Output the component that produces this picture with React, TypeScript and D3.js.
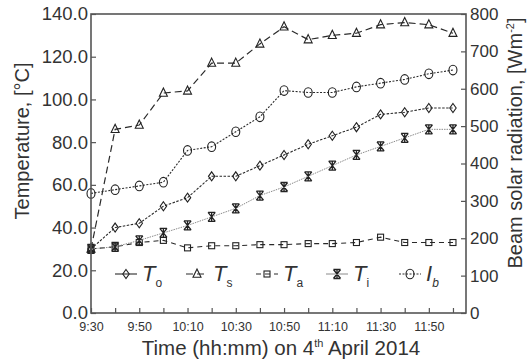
import React, { useEffect, useRef } from 'react';
import * as d3 from 'd3';

// minutes after 9:30, one reading every 10 min
const minutes = [0, 10, 20, 30, 40, 50, 60, 70, 80, 90, 100, 110, 120, 130, 140, 150];
const labelMinutes = [0, 20, 40, 60, 80, 100, 120, 140];
const tempTicks = [0, 20, 40, 60, 80, 100, 120, 140];
const radTicks = [0, 100, 200, 300, 400, 500, 600, 700, 800];

const To = [30, 40, 42, 50, 54, 64, 64, 69, 74, 79, 83, 87, 93, 94, 96, 96];
const Ts = [30, 86, 88, 103, 104, 117, 117, 126, 134, 128, 130, 131, 135, 136, 135, 131];
const Ta = [30, 31, 33, 34, 30.5, 31.5, 31.5, 32, 32, 32.5, 32.5, 33, 35.5, 33, 33, 33];
const Ti = [30, 31, 34, 37.5, 41, 45, 49, 55, 59, 64, 69, 74, 78, 82, 86, 86];
const Ib = [320, 330, 340, 350, 435, 445, 485, 525, 595, 590, 590, 605, 615, 625, 640, 650];

type Marker = 'diamond' | 'triangle' | 'square' | 'star' | 'circle';

interface Series {
  key: string;
  sub: string;
  values: number[];
  axis: 'left' | 'right';
  marker: Marker;
  stroke: string;
  dash: string;
  width: number;
}

const series: Series[] = [
  { key: 'T', sub: 'o', values: To, axis: 'left', marker: 'diamond', stroke: '#2a2a2a', dash: '2.5,1.5', width: 1.1 },
  { key: 'T', sub: 's', values: Ts, axis: 'left', marker: 'triangle', stroke: '#2a2a2a', dash: '7,4', width: 1.2 },
  { key: 'T', sub: 'a', values: Ta, axis: 'left', marker: 'square', stroke: '#2a2a2a', dash: '5,4', width: 1.1 },
  { key: 'T', sub: 'i', values: Ti, axis: 'left', marker: 'star', stroke: '#8a8a8a', dash: '1.5,1', width: 1 },
  { key: 'I', sub: 'b', values: Ib, axis: 'right', marker: 'circle', stroke: '#2a2a2a', dash: '2,1.5', width: 1.1 },
];

const legendX = [126, 197, 267, 337, 410];

const W = 527;
const H = 363;
const font = '"Liberation Sans", Arial, sans-serif';
const ink = '#333';

function drawMarker(g: d3.Selection<SVGGElement, unknown, null, undefined>, m: Marker, x: number, y: number) {
  const s = g.append('g').attr('transform', `translate(${x},${y})`)
    .attr('fill', 'none').attr('stroke', '#222').attr('stroke-width', 1.1);
  if (m === 'diamond') s.append('path').attr('d', 'M0,-4.5L3.2,0L0,4.5L-3.2,0Z');
  if (m === 'triangle') s.append('path').attr('d', 'M0,-5L4,3.2L-4,3.2Z');
  if (m === 'square') s.append('rect').attr('x', -3).attr('y', -3).attr('width', 6).attr('height', 6);
  if (m === 'circle') s.append('ellipse').attr('rx', 4).attr('ry', 4.8);
  if (m === 'star') {
    s.attr('stroke-width', 1.3);
    s.append('path').attr('d', 'M-3.6,-4.5L3.6,4.5M3.6,-4.5L-3.6,4.5M-3.6,-4.5L3.6,-4.5M-3.6,4.5L3.6,4.5M0,-4.5L0,4.5');
  }
}

const App: React.FC = () => {
  const svgRef = useRef<SVGSVGElement>(null);

  useEffect(() => {
    if (!svgRef.current) return;
    const svg = d3.select(svgRef.current);
    svg.selectAll('*').remove();

    const left = 91, right = 466, top = 14, bottom = 313;

    const x = d3.scaleLinear().domain([0, 155.4]).range([left, right]);
    const yL = d3.scaleLinear().domain([0, 140]).range([bottom, top]);
    const yR = d3.scaleLinear().domain([0, 800]).range([bottom, top]);

    const g = svg.append('g').attr('font-family', font);

    // series lines and markers
    series.forEach(s => {
      const y = s.axis === 'left' ? yL : yR;
      const line = d3.line<number>()
        .x((_, i) => x(minutes[i]))
        .y(d => y(d));
      g.append('path')
        .attr('d', line(s.values))
        .attr('fill', 'none')
        .attr('stroke', s.stroke)
        .attr('stroke-width', s.width)
        .attr('stroke-dasharray', s.dash);
      s.values.forEach((v, i) => drawMarker(g, s.marker, x(minutes[i]), y(v)));
    });

    // axes, ticks pointing inward
    const styleAxis = (a: d3.Selection<SVGGElement, unknown, null, undefined>, size: number) => {
      a.select('.domain').remove();
      a.selectAll('line').attr('stroke', '#555').attr('stroke-width', 1.2);
      a.selectAll('text').attr('fill', ink).attr('font-family', font).attr('font-size', size);
    };

    const axL = g.append('g').attr('transform', `translate(${left},0)`)
      .call(d3.axisLeft(yL).tickValues(tempTicks).tickSize(-5).tickPadding(3).tickFormat(d3.format('.1f')));
    styleAxis(axL, 18.5);

    const axR = g.append('g').attr('transform', `translate(${right},0)`)
      .call(d3.axisRight(yR).tickValues(radTicks).tickSize(-5).tickPadding(4).tickFormat(d3.format('d')));
    styleAxis(axR, 17);

    const fmtTime = (m: number) => {
      const t = 9 * 60 + 30 + m;
      return `${Math.floor(t / 60)}:${String(t % 60).padStart(2, '0')}`;
    };
    const axB = g.append('g').attr('transform', `translate(0,${bottom})`)
      .call(d3.axisBottom(x).tickValues(minutes).tickSize(-5).tickPadding(9)
        .tickFormat(d => (labelMinutes.includes(+d) ? fmtTime(+d) : '')));
    styleAxis(axB, 12.5);

    // frame
    g.append('rect')
      .attr('x', left).attr('y', top)
      .attr('width', right - left).attr('height', bottom - top)
      .attr('fill', 'none').attr('stroke', '#555').attr('stroke-width', 1.6);

    // legend
    const ly = 274;
    series.forEach((s, i) => {
      const cx = legendX[i];
      g.append('line')
        .attr('x1', cx - 11).attr('x2', cx + 11).attr('y1', ly).attr('y2', ly)
        .attr('stroke', s.stroke).attr('stroke-width', s.width)
        .attr('stroke-dasharray', s.marker === 'diamond' || s.marker === 'star' ? null : s.dash);
      drawMarker(g, s.marker, cx, ly);
      const t = g.append('text').attr('x', cx + 16).attr('y', ly + 7)
        .attr('fill', ink).attr('font-size', 22);
      t.append('tspan').attr('font-style', 'italic').text(s.key);
      t.append('tspan').attr('font-size', 12).attr('dy', 6)
        .attr('font-style', s.sub === 'b' ? 'italic' : 'normal').text(s.sub);
    });

    // axis titles
    g.append('text')
      .attr('transform', 'translate(29,141) rotate(-90)')
      .attr('text-anchor', 'middle').attr('fill', ink).attr('font-size', 20)
      .text('Temperature, [°C]');

    const rt = g.append('text')
      .attr('transform', 'translate(522,143) rotate(-90)')
      .attr('text-anchor', 'middle').attr('fill', ink).attr('font-size', 20);
    rt.append('tspan').text('Beam solar radiation, [Wm');
    rt.append('tspan').attr('font-size', 11).attr('dy', -8).text('-2');
    rt.append('tspan').attr('dy', 8).text(']');

    const xt = g.append('text')
      .attr('x', 281).attr('y', 355)
      .attr('text-anchor', 'middle').attr('fill', ink).attr('font-size', 20.5);
    xt.append('tspan').text('Time (hh:mm) on 4');
    xt.append('tspan').attr('font-size', 11).attr('dy', -8).text('th');
    xt.append('tspan').attr('dy', 8).text(' April 2014');
  }, []);

  return (
    <div style={{ position: 'absolute', left: 0, top: 0 }}>
      <svg ref={svgRef} width={W} height={H} style={{ display: 'block', background: '#fff' }} />
    </div>
  );
};

export default App;
